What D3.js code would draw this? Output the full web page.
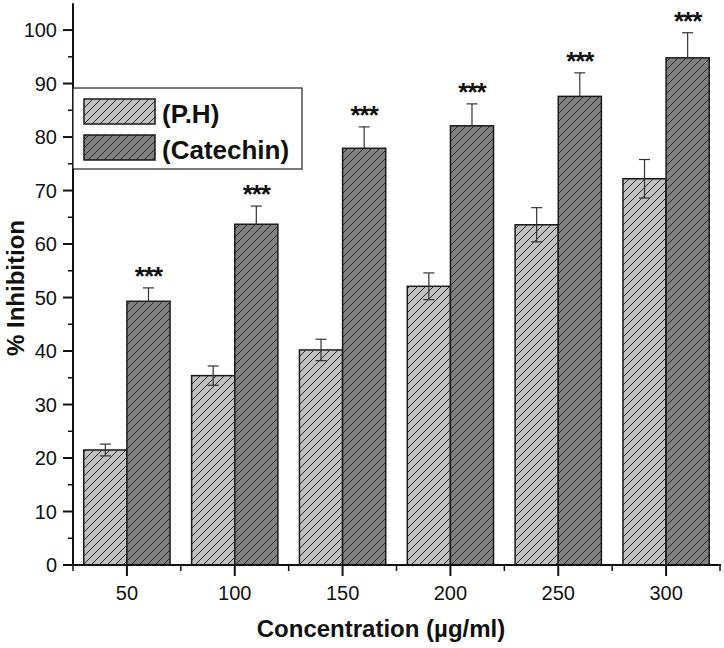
<!DOCTYPE html>
<html><head><meta charset="utf-8">
<script src="https://cdn.jsdelivr.net/npm/d3@7"></script>
<style>body{margin:0;background:#fff}svg{display:block}</style>
</head><body>
<svg id="c" width="724" height="648"></svg>
<script>
const categories = ["50","100","150","200","250","300"];
const seriesNames = ["(P.H)","(Catechin)"];
const phValues = [21.5, 35.4, 40.2, 52.1, 63.6, 72.2];
const phErrors = [1.1, 1.8, 2.0, 2.5, 3.2, 3.6];
const catValues = [49.3, 63.7, 77.9, 82.1, 87.6, 94.8];
const catErrors = [2.5, 3.4, 4.0, 4.1, 4.4, 4.7];
const sigLabels = ["***","***","***","***","***","***"];
const yTicks = [0,10,20,30,40,50,60,70,80,90,100];
const yMinorTicks = [5,15,25,35,45,55,65,75,85,95];

const FONT = "'Liberation Sans', Arial, sans-serif";
const svg = d3.select("#c");
const L = 73, R = 720, T = 3.3, B = 565;
const x = d3.scaleBand().domain(categories).range([L, R]).padding(0);
const bw = x.bandwidth();
const x1 = d3.scaleBand().domain([0,1]).range([bw*0.1, bw*0.9]).padding(0);
const y = d3.scaleLinear().domain([0,105]).range([B, T]);

const fills = ["#c0c0c0", "#808080"];
const defs = svg.append("defs");
fills.forEach((f,i)=>{
  const p = defs.append("pattern").attr("id","h"+i).attr("patternUnits","userSpaceOnUse")
    .attr("width",8).attr("height",8);
  p.append("rect").attr("width",8).attr("height",8).attr("fill",f);
  p.append("path").attr("d","M-2,2 L2,-2 M0,8 L8,0 M6,10 L10,6")
    .attr("stroke","#2a2a2a").attr("stroke-width",1);
});

const series = [
  {vals: phValues, errs: phErrors},
  {vals: catValues, errs: catErrors}
];

// bars
series.forEach((s,si)=>{
  svg.append("g").selectAll("rect").data(categories).join("rect")
    .attr("x", d=>x(d)+x1(si))
    .attr("y", (d,i)=>y(s.vals[i]))
    .attr("width", x1.bandwidth())
    .attr("height", (d,i)=>y(0)-y(s.vals[i]))
    .attr("fill", `url(#h${si})`)
    .attr("stroke","#1a1a1a").attr("stroke-width",1.5);
});

// error bars
series.forEach((s,si)=>{
  const g = svg.append("g").attr("stroke","#333").attr("stroke-width",1.2).attr("fill","none");
  categories.forEach((c,i)=>{
    const cx = x(c)+x1(si)+x1.bandwidth()/2;
    const hi = y(s.vals[i]+s.errs[i]);
    const lo = si===0 ? y(s.vals[i]-s.errs[i]) : y(s.vals[i]);
    g.append("line").attr("x1",cx).attr("x2",cx).attr("y1",hi).attr("y2",lo);
    g.append("line").attr("x1",cx-5.5).attr("x2",cx+5.5).attr("y1",hi).attr("y2",hi);
    if (si===0) g.append("line").attr("x1",cx-5.5).attr("x2",cx+5.5).attr("y1",lo).attr("y2",lo);
  });
});

// significance stars
svg.append("g").selectAll("text").data(categories).join("text")
  .attr("x", d=>x(d)+x1(1)+x1.bandwidth()/2)
  .attr("y", (d,i)=>y(catValues[i]+catErrors[i]) - 3)
  .attr("text-anchor","middle")
  .attr("font-family",FONT).attr("font-size",26).attr("font-weight","bold").attr("fill","#111")
  .attr("letter-spacing",-1)
  .text((d,i)=>sigLabels[i]);

// axes
const ax = svg.append("g").attr("stroke","#111").attr("fill","none");
ax.append("line").attr("x1",L).attr("x2",L).attr("y1",B+1).attr("y2",T).attr("stroke-width",2);
ax.append("line").attr("x1",L-1).attr("x2",R+1).attr("y1",B).attr("y2",B).attr("stroke-width",2);
yTicks.forEach(t=>ax.append("line").attr("x1",L-10).attr("x2",L).attr("y1",y(t)).attr("y2",y(t)).attr("stroke-width",2));
yMinorTicks.forEach(t=>ax.append("line").attr("x1",L-5).attr("x2",L).attr("y1",y(t)).attr("y2",y(t)).attr("stroke-width",1.5));
categories.forEach(c=>{
  const cx = x(c)+bw/2;
  ax.append("line").attr("x1",cx).attr("x2",cx).attr("y1",B).attr("y2",B+11).attr("stroke-width",2);
});
const bounds = categories.map(c=>x(c)).concat([R]);
bounds.forEach(bx=>ax.append("line").attr("x1",bx).attr("x2",bx).attr("y1",B).attr("y2",B+6).attr("stroke-width",1.5));

svg.append("g").selectAll("text").data(yTicks).join("text")
  .attr("x", L-16).attr("y", d=>y(d)+7)
  .attr("text-anchor","end").attr("font-family",FONT).attr("font-size",20).attr("fill","#111")
  .text(d=>d);
svg.append("g").selectAll("text").data(categories).join("text")
  .attr("x", d=>x(d)+bw/2).attr("y", 600)
  .attr("text-anchor","middle").attr("font-family",FONT).attr("font-size",20).attr("fill","#111")
  .text(d=>d);

// axis titles
svg.append("text").attr("x",381).attr("y",637).attr("text-anchor","middle")
  .attr("font-family",FONT).attr("font-size",24).attr("font-weight","bold").attr("fill","#111")
  .text("Concentration (µg/ml)");
svg.append("text").attr("transform","translate(24,288) rotate(-90)").attr("text-anchor","middle")
  .attr("font-family",FONT).attr("font-size",24).attr("font-weight","bold").attr("fill","#111")
  .text("% Inhibition");

// legend
const lg = svg.append("g");
lg.append("rect").attr("x",L).attr("y",88).attr("width",302-L).attr("height",81)
  .attr("fill","#fff").attr("stroke","#222").attr("stroke-width",1.2);
seriesNames.forEach((n,i)=>{
  const yy = 99 + i*36;
  lg.append("rect").attr("x",84).attr("y",yy).attr("width",71).attr("height",25)
    .attr("fill",`url(#h${i})`).attr("stroke","#1a1a1a").attr("stroke-width",1.5);
  lg.append("text").attr("x",162).attr("y",yy+24).attr("font-family",FONT).attr("font-size",26)
    .attr("font-weight","bold").attr("fill","#111").text(n);
});
</script>
</body></html>
